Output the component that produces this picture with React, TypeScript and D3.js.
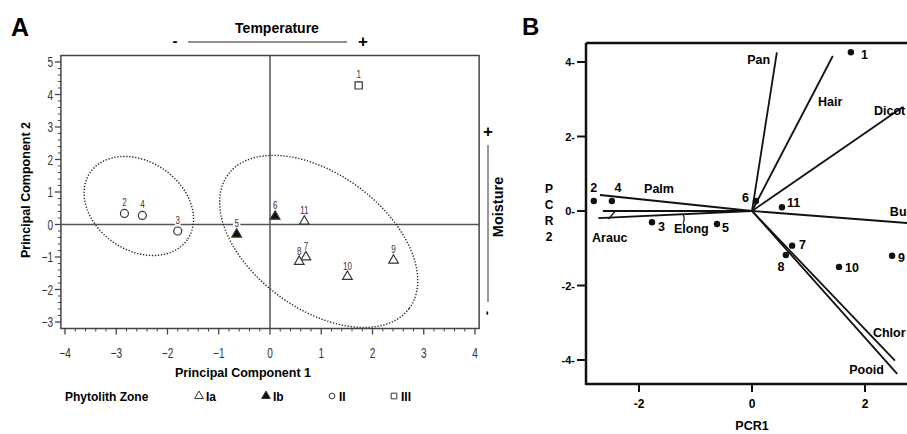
import React from "react";
import * as d3 from "d3";

// samples (same 11 samples in both panels)
const sampleIds = ["1", "2", "3", "4", "5", "6", "7", "8", "9", "10", "11"];
const zones = ["III", "II", "II", "II", "Ib", "Ib", "Ia", "Ia", "Ia", "Ia", "Ia"];
const pc1 = [1.73, -2.84, -1.8, -2.49, -0.65, 0.1, 0.7, 0.57, 2.41, 1.51, 0.67];
const pc2 = [4.28, 0.34, -0.2, 0.28, -0.3, 0.25, -1.0, -1.14, -1.1, -1.6, 0.1];

const zoneNames = ["Ia", "Ib", "II", "III"];

// ellipses: centre + two conjugate semi-axes, data units
const ellipseCentre = [[-2.56, 0.57], [0.95, -0.52]];
const ellipseU = [[0.945, -1.04], [1.765, -2.065]];
const ellipseV = [[-0.498, -1.114], [-0.788, -1.658]];

// panel B scores
const pcr1 = [1.75, -2.8, -1.77, -2.48, -0.62, 0.07, 0.71, 0.6, 2.48, 1.54, 0.53];
const pcr2 = [4.26, 0.27, -0.3, 0.27, -0.35, 0.27, -0.93, -1.18, -1.2, -1.5, 0.1];

// panel B loadings (labels as far as the figure shows them)
const loadNames = ["Pan", "Hair", "Dicot", "Bu", "Chlor", "Pooid", "Palm", "Arauc", "Elong"];
const loadX = [0.44, 1.43, 2.67, 2.9, 2.53, 2.57, -2.69, -2.64, -2.72];
const loadY = [4.26, 4.16, 2.79, -0.34, -4.02, -4.37, 0.43, 0.0, -0.19];
const loadLabelX = [0.32, 1.17, 2.16, 2.44, 2.14, 1.72, -1.91, -2.83, -1.38];
const loadLabelY = [3.95, 2.82, 2.58, -0.13, -3.38, -4.38, 0.48, -0.83, -0.59];

const ticksA_x = [-4, -3, -2, -1, 0, 1, 2, 3, 4];
const ticksA_y = [-3, -2, -1, 0, 1, 2, 3, 4, 5];
const ticksB_x = [-2, 0, 2];
const ticksB_y = [-4, -2, 0, 2, 4];

// label placement for panel B points [dx, dy, anchor]
const labelPosB: [number, number, string][] = [
  [10, 7, "start"], [0, -9, "middle"], [6, 9, "start"], [6, -9, "middle"],
  [5, 8, "start"], [-7, 1, "end"], [7, 3, "start"], [-5, 16, "middle"],
  [6, 6, "start"], [6, 5, "start"], [5, 0, "start"],
];

const bold = "'Liberation Sans', Arial, sans-serif";
const thin = "'Liberation Sans', Arial, sans-serif";

const symFor = (z: string) => {
  if (z === "III") return d3.symbol().type(d3.symbolSquare).size(52)();
  if (z === "II") return d3.symbol().type(d3.symbolCircle).size(50)();
  return d3.symbol().type(d3.symbolTriangle).size(40)();
};

const fmt = (v: number) => (v < 0 ? `\u2212${Math.abs(v)}` : `${v}`);

const PanelA = () => {
  const x = d3.scaleLinear().domain([-4, 4]).range([65, 475]);
  const y = d3.scaleLinear().domain([-3, 5]).range([322, 62]);
  const left = x(-4.08), right = x(4.08), top = y(5.2), bottom = y(-3.2);
  const minorX = d3.range(-4, 4.001, 0.2).filter((v) => Math.abs(v - Math.round(v)) > 0.01);
  const minorY = d3.range(-3, 5.001, 0.2).filter((v) => Math.abs(v - Math.round(v)) > 0.01);
  const frame = "#444";

  const ellipsePath = (i: number) => {
    const pts = d3.range(0, 2 * Math.PI + 0.001, Math.PI / 90).map((t) => [
      x(ellipseCentre[i][0] + Math.cos(t) * ellipseU[i][0] + Math.sin(t) * ellipseV[i][0]),
      y(ellipseCentre[i][1] + Math.cos(t) * ellipseU[i][1] + Math.sin(t) * ellipseV[i][1]),
    ]);
    return d3.line()(pts as [number, number][]);
  };

  const legendX = [199, 266, 332, 394];

  return (
    <g>
      <text x={11} y={36} fontFamily={bold} fontWeight="bold" fontSize={25}>A</text>
      <text x={277} y={33} textAnchor="middle" fontFamily={bold} fontWeight="bold" fontSize={14}>Temperature</text>
      <line x1={188} x2={347} y1={42} y2={42} stroke="#222" strokeWidth={1.2} />
      <text x={175} y={46} textAnchor="middle" fontFamily={bold} fontWeight="bold" fontSize={15}>-</text>
      <text x={363} y={47} textAnchor="middle" fontFamily={bold} fontWeight="bold" fontSize={17}>+</text>

      {/* reference lines */}
      <line x1={x(0)} x2={x(0)} y1={top} y2={bottom} stroke="#555" strokeWidth={1.5} />
      <line x1={left} x2={right} y1={y(0)} y2={y(0)} stroke="#555" strokeWidth={1.5} />

      {[0, 1].map((i) => (
        <path key={i} d={ellipsePath(i) || ""} fill="none" stroke="#222" strokeWidth={1.4} strokeDasharray="1.3 1.7" />
      ))}

      {/* frame */}
      <rect x={left} y={top} width={right - left} height={bottom - top} fill="none" stroke={frame} strokeWidth={1.5} />

      {/* x axis */}
      {ticksA_x.map((v) => (
        <g key={v}>
          <line x1={x(v)} x2={x(v)} y1={bottom} y2={bottom + 6} stroke={frame} strokeWidth={1.3} />
          <text transform={`translate(${x(v)},358) scale(0.72,1)`} textAnchor="middle" fontFamily={thin} fontSize={14} fill="#333">
            {fmt(v)}
          </text>
        </g>
      ))}
      {minorX.map((v, i) => (
        <line key={i} x1={x(v)} x2={x(v)} y1={bottom} y2={bottom + 3} stroke={frame} strokeWidth={1} />
      ))}
      {/* y axis */}
      {ticksA_y.map((v) => (
        <g key={v}>
          <line x1={left - 6} x2={left} y1={y(v)} y2={y(v)} stroke={frame} strokeWidth={1.3} />
          <text transform={`translate(53,${y(v) + 5}) scale(0.72,1)`} textAnchor="end" fontFamily={thin} fontSize={14} fill="#333">
            {fmt(v)}
          </text>
        </g>
      ))}
      {minorY.map((v, i) => (
        <line key={i} x1={left - 3} x2={left} y1={y(v)} y2={y(v)} stroke={frame} strokeWidth={1} />
      ))}

      <text x={243} y={377} textAnchor="middle" fontFamily={bold} fontWeight="bold" fontSize={12.5}>Principal Component 1</text>
      <text transform="translate(30,190) rotate(-90)" textAnchor="middle" fontFamily={bold} fontWeight="bold" fontSize={12.5}>Principal Component 2</text>

      {/* points */}
      {sampleIds.map((id, i) => (
        <g key={id}>
          <text transform={`translate(${x(pc1[i])},${y(pc2[i]) - 7}) scale(0.8,1)`} textAnchor="middle" fontFamily={thin} fontSize={10} fill="#333"
            stroke="#fff" strokeWidth={4} paintOrder="stroke">{id}</text>
          <path d={symFor(zones[i]) || ""} transform={`translate(${x(pc1[i])},${y(pc2[i])})`}
            fill={zones[i] === "Ib" ? "#111" : "#fff"} stroke="#333" strokeWidth={1.2} />
        </g>
      ))}

      {/* Moisture */}
      <text x={488} y={137} textAnchor="middle" fontFamily={bold} fontWeight="bold" fontSize={17}>+</text>
      <line x1={488} x2={488} y1={145} y2={302} stroke="#555" strokeWidth={1.2} />
      <text transform="translate(491,313) rotate(-90)" textAnchor="middle" fontFamily={bold} fontWeight="bold" fontSize={13}>-</text>
      <text transform="translate(503,207) rotate(-90)" textAnchor="middle" fontFamily={bold} fontWeight="bold" fontSize={14.5}>Moisture</text>

      {/* legend */}
      <text x={65} y={401} fontFamily={bold} fontWeight="bold" fontSize={12}>Phytolith Zone</text>
      {zoneNames.map((z, i) => (
        <g key={z}>
          <path d={d3.symbol().type(z === "III" ? d3.symbolSquare : z === "II" ? d3.symbolCircle : d3.symbolTriangle).size(z === "II" ? 26 : 32)() || ""}
            transform={`translate(${legendX[i]},${396})`} fill={z === "Ib" ? "#111" : "#fff"} stroke="#333" strokeWidth={1} />
          <text x={legendX[i] + 7} y={401} fontFamily={bold} fontWeight="bold" fontSize={12}>{z}</text>
        </g>
      ))}
    </g>
  );
};

const PanelB = () => {
  const x = d3.scaleLinear().domain([-2, 2]).range([639, 865]);
  const y = d3.scaleLinear().domain([-4, 4]).range([360, 62]);
  const left = 586, top = 43, bottom = 384;

  return (
    <g fontFamily={bold} fontWeight="bold">
      <text x={522} y={35} fontSize={24}>B</text>

      {/* loadings */}
      {loadNames.map((n, i) => (
        <line key={n} x1={x(0)} y1={y(0)} x2={x(loadX[i])} y2={y(loadY[i])} stroke="#111" strokeWidth={1.8} />
      ))}
      {loadNames.map((n, i) => (
        <text key={n} x={x(loadLabelX[i])} y={y(loadLabelY[i])} textAnchor={i === 0 ? "end" : "start"} fontSize={12.5}>{n}</text>
      ))}
      {/* leader ticks for Arauc and Elong */}
      <line x1={x(-2.42)} y1={y(0.0)} x2={x(-2.54)} y2={y(-0.22)} stroke="#111" strokeWidth={1.3} />
      <path d={`M${x(-1.22)},${y(-0.09)} Q${x(-1.18)},${y(-0.2)} ${x(-1.22)},${y(-0.34)}`} fill="none" stroke="#111" strokeWidth={1.2} />

      {/* axes */}
      <line x1={left} x2={907} y1={top} y2={top} stroke="#111" strokeWidth={2.5} />
      <line x1={left} x2={907} y1={bottom} y2={bottom} stroke="#111" strokeWidth={2.5} />
      <line x1={left} x2={left} y1={top} y2={bottom + 1} stroke="#111" strokeWidth={2.5} />
      {ticksB_y.map((v) => (
        <g key={v}>
          <line x1={577} x2={left} y1={y(v)} y2={y(v)} stroke="#111" strokeWidth={2} />
          <text x={575} y={y(v) + 4} textAnchor="end" fontSize={11}>{`${v}-`}</text>
        </g>
      ))}
      {ticksB_x.map((v) => (
        <g key={v}>
          <line x1={x(v)} x2={x(v)} y1={bottom} y2={bottom + 8} stroke="#111" strokeWidth={2} />
          <text x={x(v)} y={408} textAnchor="middle" fontSize={12}>{v}</text>
        </g>
      ))}
      <text x={x(0)} y={430} textAnchor="middle" fontSize={12.5}>PCR1</text>
      {["P", "C", "R", "2"].map((c, i) => (
        <text key={i} x={549} y={193 + i * 16} textAnchor="middle" fontSize={12}>{c}</text>
      ))}

      {/* samples */}
      {sampleIds.map((id, i) => (
        <g key={id}>
          <circle cx={x(pcr1[i])} cy={y(pcr2[i])} r={3.2} fill="#111" />
          <text x={x(pcr1[i]) + labelPosB[i][0]} y={y(pcr2[i]) + labelPosB[i][1]} textAnchor={labelPosB[i][2]} fontSize={12.5}>{id}</text>
        </g>
      ))}
    </g>
  );
};

export default function App() {
  return (
    <svg width={907} height={434} style={{ position: "absolute", left: 0, top: 0, background: "#fff" }}>
      <PanelA />
      <PanelB />
    </svg>
  );
}
